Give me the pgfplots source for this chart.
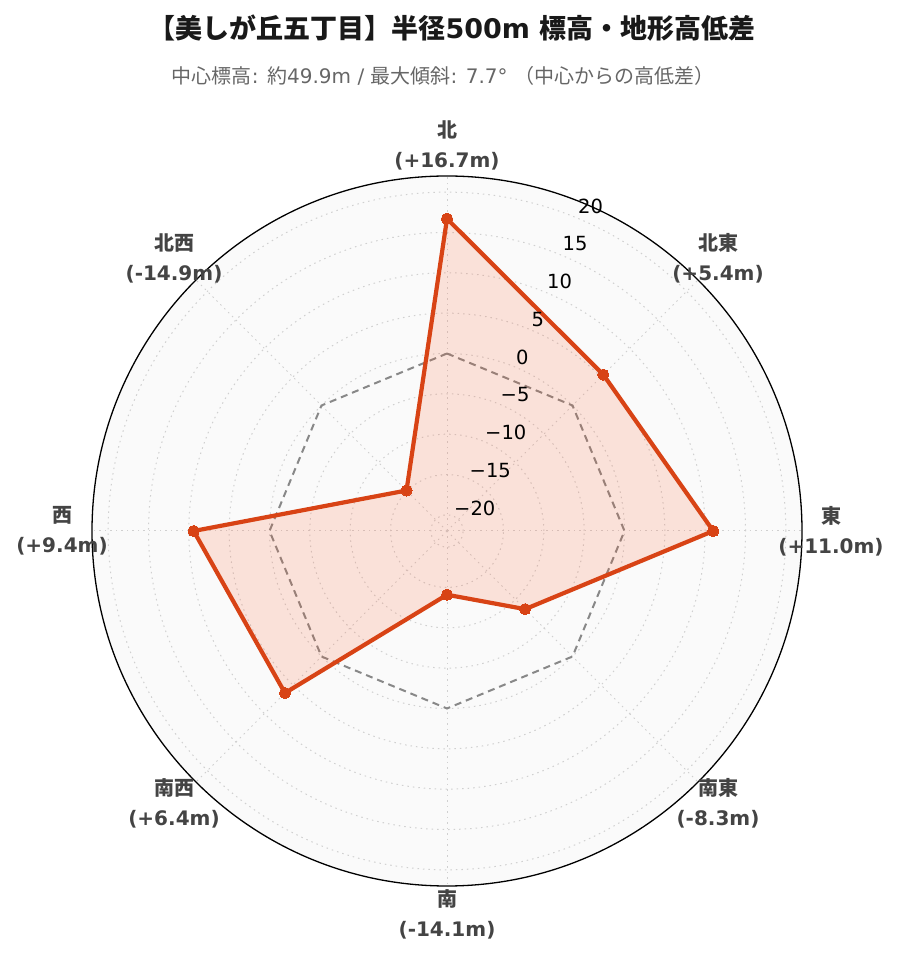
\documentclass[border=0pt]{standalone}
\usepackage{fontspec}
\setmainfont{DejaVu Sans}
\newfontfamily\cjk{Noto Sans CJK JP}
\usepackage{pgfplots}
\usepackage{pgfplotstable}
\pgfplotsset{compat=1.18}
\definecolor{mainc}{HTML}{D84315}
\definecolor{fillc}{HTML}{FF5722}
\definecolor{bgc}{HTML}{FAFAFA}
\definecolor{gridc}{HTML}{D0D0D0}
\definecolor{refc}{HTML}{888888}
\definecolor{labc}{HTML}{444444}
\definecolor{subc}{HTML}{666666}

\pgfplotstableread{
a v
90 16.7
45 5.4
0 11.0
-45 -8.3
-90 -14.1
-135 6.4
180 9.4
135 -14.9
90 16.7
}\elev

\pgfplotstableread{
a v
90 0
45 0
0 0
-45 0
-90 0
-135 0
180 0
135 0
90 0
}\refline

\begin{document}
\begin{tikzpicture}[x=1pt,y=1pt]
\useasboundingbox (0,0) rectangle (900,962);
\coordinate (C) at (447,431);
\fill[bgc] (C) circle (355);
\foreach \v in {-20,-15,...,20}
  \draw[gridc, line width=1, dash pattern=on 1.5pt off 4pt] (C) circle ({(\v+22)*8.068});
\foreach \t in {0,45,...,315}
  \draw[gridc, line width=1, dash pattern=on 1.5pt off 4pt] (C) -- ++(\t:355);
\draw[black, line width=1.3] (C) circle (355);
\begin{axis}[at={(447pt,431pt)}, anchor=origin, scale only axis,
  width=710pt, height=710pt, xmin=-44, xmax=44, ymin=-44, ymax=44,
  hide axis, clip=false]
\addplot[refc, line width=2pt, dash pattern=on 7pt off 5pt, no markers]
  table[x expr={(\thisrow{v}+22)*cos(\thisrow{a})}, y expr={(\thisrow{v}+22)*sin(\thisrow{a})}] {\refline};
\addplot[mainc, line width=4.2pt, line join=round, fill=fillc, fill opacity=0.15,
  mark=*, mark size=5.6pt, mark options={solid, fill=mainc, fill opacity=1, draw opacity=1, line width=0pt}]
  table[x expr={(\thisrow{v}+22)*cos(\thisrow{a})}, y expr={(\thisrow{v}+22)*sin(\thisrow{a})}] {\elev};
\end{axis}
% radial tick labels
\foreach \v/\s in {-20/−20,-15/−15,-10/−10,-5/−5,0/0,5/5,10/10,15/15,20/20}
  \node[anchor=west, inner sep=0, font=\fontsize{19.5}{20}\selectfont] at ({454+(\v+20)*3.1}, {454+(\v+20)*7.55}) {\s};
% angular labels
\tikzset{al/.style={align=center, text=labc, font=\fontsize{20}{30}\selectfont\bfseries, inner sep=0}}
\node[al] at (447,{962-145}) {{\cjk 北}\\(+16.7m)};
\node[al] at (718,{962-258}) {{\cjk 北東}\\(+5.4m)};
\node[al] at (831,{962-531}) {{\cjk 東}\\(+11.0m)};
\node[al] at (718,{962-803}) {{\cjk 南東}\\(-8.3m)};
\node[al] at (447,{962-914}) {{\cjk 南}\\(-14.1m)};
\node[al] at (174,{962-803}) {{\cjk 南西}\\(+6.4m)};
\node[al] at (62,{962-531}) {{\cjk 西}\\(+9.4m)};
\node[al] at (174,{962-258}) {{\cjk 北西}\\(-14.9m)};
% title
\node[font=\fontsize{27}{30}\selectfont\bfseries, text=black!90] at (452,{962-28}) {{\cjk 【美しが丘五丁目】半径}500m {\cjk 標高・地形高低差}};
\node[font=\fontsize{20}{22}\selectfont, text=subc] at (443,{962-76}) {{\cjk 中心標高}: {\cjk 約}49.9m / {\cjk 最大傾斜}: 7.7° {\cjk （中心からの高低差）}};
\end{tikzpicture}
\end{document}
